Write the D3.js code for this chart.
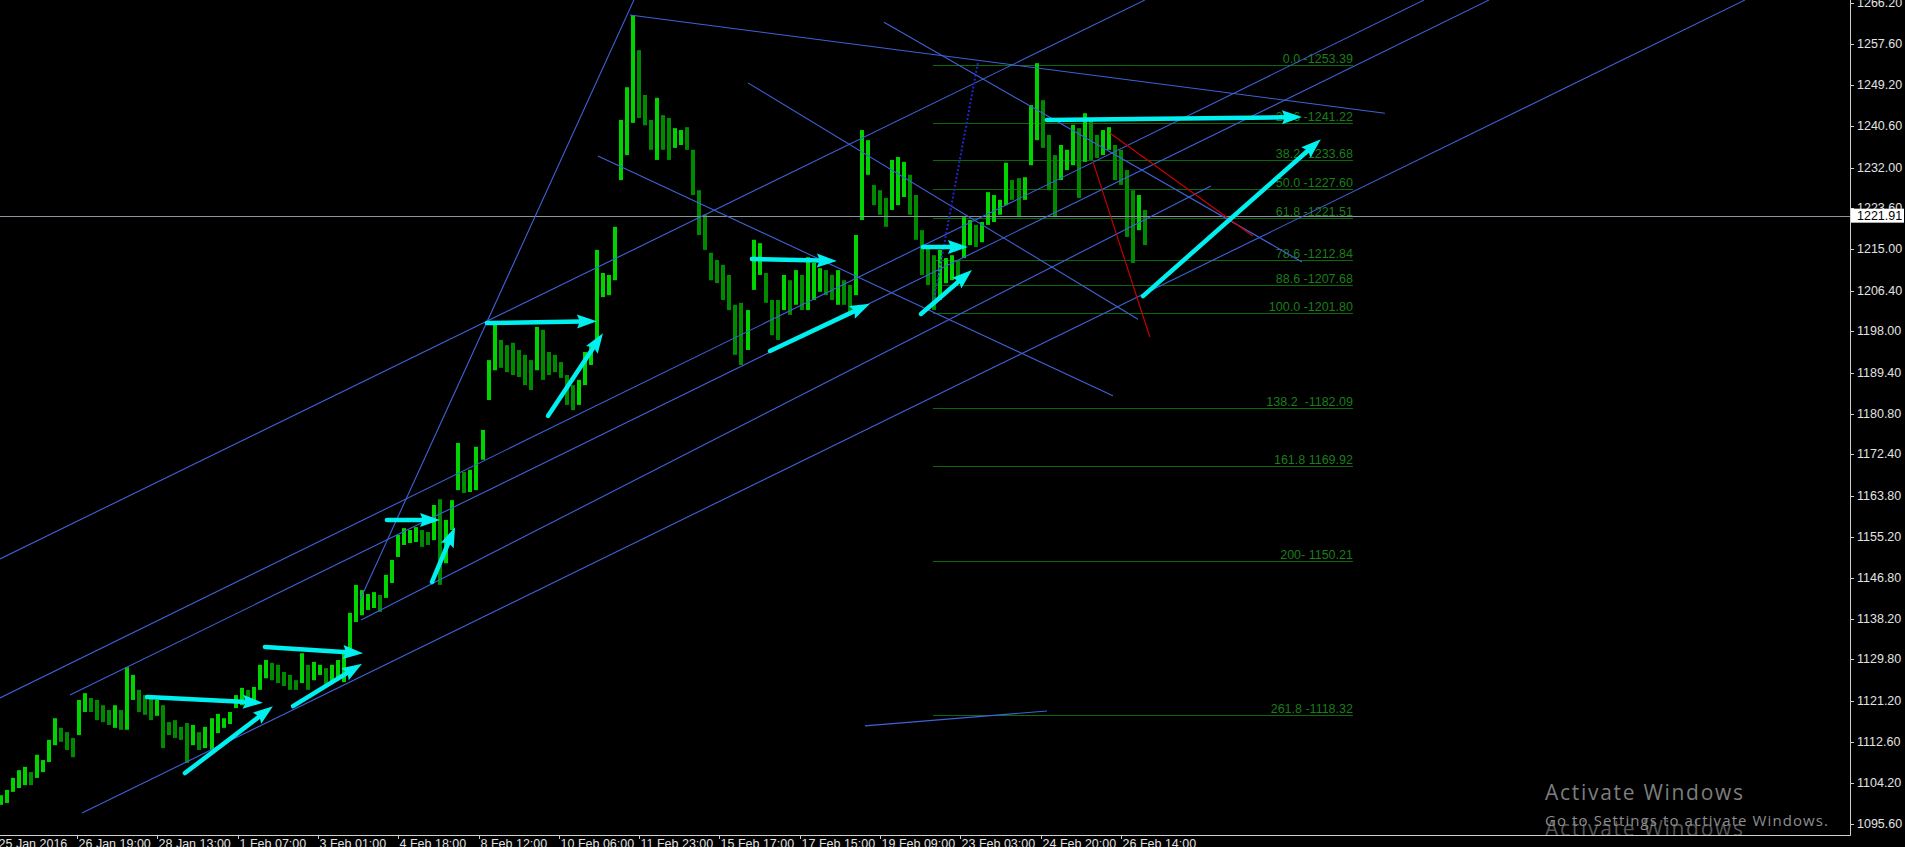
<!DOCTYPE html>
<html><head><meta charset="utf-8">
<script src="https://cdn.jsdelivr.net/npm/d3@7"></script>
<style>html,body{margin:0;padding:0;background:#000;overflow:hidden}</style>
</head><body>
<svg id="c" width="1905" height="847"></svg>
<script>
// ---------- DATA ----------
const barHigh = [1101.6,1102.7,1105.2,1106.8,1107.5,1106.4,1110.0,1108.9,1113.1,1117.6,
1115.6,1114.7,1113.5,1121.4,1122.8,1121.8,1121.4,1120.3,1119.3,1120.3,
1119.3,1128.2,1126.6,1123.5,1122.4,1121.8,1121.4,1120.3,1116.8,1117.2,
1115.8,1116.6,1116.2,1114.7,1115.8,1117.6,1118.5,1117.6,1118.9,1122.4,
1123.9,1123.5,1124.1,1128.7,1129.7,1129.1,1128.7,1127.2,1126.6,1125.5,
1131.1,1128.7,1129.3,1128.7,1128.0,1128.7,1129.7,1131.8,1139.5,1145.3,
1144.2,1143.4,1143.8,1143.2,1147.4,1150.5,1155.7,1157.1,1156.7,1157.3,
1156.7,1156.3,1161.9,1163.1,1158.8,1162.9,1174.8,1168.8,1169.2,1174.0,
1177.5,1192.0,1199.7,1196.2,1195.1,1195.6,1194.1,1193.1,1192.0,1198.9,
1198.3,1193.7,1193.1,1191.6,1188.9,1186.8,1187.9,1193.7,1195.1,1214.9,
1210.1,1209.7,1219.7,1241.9,1248.7,1263.7,1256.4,1247.1,1241.9,1246.5,
1242.9,1242.3,1240.2,1239.8,1240.4,1235.7,1227.3,1222.2,1214.3,1212.8,
1211.8,1209.7,1203.5,1203.9,1202.4,1217.0,1216.3,1210.1,1204.5,1204.5,
1209.7,1208.6,1210.7,1209.7,1213.4,1212.2,1211.1,1210.7,1209.7,1210.7,
1208.6,1207.6,1218.0,1239.8,1237.7,1228.4,1227.3,1225.7,1233.6,1234.2,
1233.2,1230.5,1226.3,1219.0,1215.9,1213.8,1214.9,1213.2,1213.8,1212.8,
1221.7,1221.1,1220.1,1220.7,1226.9,1226.3,1225.3,1233.0,1229.4,1229.8,
1230.0,1245.0,1253.7,1246.0,1238.8,1234.6,1236.7,1235.7,1240.9,1240.2,
1243.3,1241.9,1238.8,1239.8,1240.4,1236.7,1235.7,1231.5,1227.3,1226.3,
1223.2];
const barLow = [1099.6,1100.0,1102.3,1103.1,1103.7,1103.7,1105.2,1106.4,1108.5,1112.0,
1112.7,1111.0,1109.5,1114.1,1118.9,1118.9,1117.2,1116.8,1116.2,1115.6,
1115.2,1115.2,1121.4,1118.9,1118.3,1117.2,1118.1,1111.4,1114.1,1113.5,
1113.1,1108.3,1112.0,1111.0,1111.4,1111.0,1114.5,1115.6,1116.4,1119.7,
1120.3,1120.6,1121.0,1123.5,1125.9,1125.5,1124.9,1124.3,1123.5,1123.5,
1124.9,1123.5,1125.5,1126.6,1124.5,1125.1,1125.5,1125.1,1131.8,1137.6,
1139.0,1140.1,1140.5,1139.7,1142.6,1145.7,1151.1,1153.6,1154.0,1154.2,
1153.2,1153.6,1154.6,1145.3,1149.8,1156.7,1165.0,1164.4,1164.6,1165.0,
1171.3,1183.7,1189.9,1190.4,1189.5,1188.9,1188.5,1186.8,1185.8,1189.9,
1187.9,1188.9,1189.5,1188.3,1182.7,1181.6,1182.7,1186.8,1191.0,1195.1,
1205.1,1205.5,1208.6,1229.4,1234.6,1241.3,1242.3,1240.8,1235.7,1233.6,
1235.7,1233.6,1236.1,1236.7,1235.7,1226.3,1218.0,1214.9,1208.6,1208.0,
1204.5,1202.4,1193.1,1191.0,1194.1,1206.6,1209.7,1203.9,1197.2,1196.2,
1202.4,1201.4,1203.5,1202.4,1202.4,1204.5,1206.2,1205.5,1204.5,1203.5,
1203.5,1201.8,1205.5,1221.1,1230.5,1224.2,1222.2,1219.7,1223.2,1224.2,
1225.9,1222.2,1217.0,1209.7,1207.6,1202.4,1204.5,1208.0,1208.6,1208.0,
1213.2,1215.9,1215.5,1216.5,1220.1,1220.7,1222.2,1224.2,1225.3,1221.7,
1225.3,1232.5,1237.7,1236.1,1227.3,1221.7,1229.4,1231.5,1232.5,1225.7,
1233.2,1233.6,1234.0,1234.6,1235.7,1229.4,1228.4,1217.6,1212.2,1219.0,
1215.9];
const firstBarHour = -38;      // hour index of first bar (hourly index, skipping closed hours)
const hoursPerBar = 3;

const timeLabels = ["25 Jan 2016","26 Jan 19:00","28 Jan 13:00","1 Feb 07:00","3 Feb 01:00","4 Feb 18:00",
  "8 Feb 12:00","10 Feb 06:00","11 Feb 23:00","15 Feb 17:00","17 Feb 15:00","19 Feb 09:00",
  "23 Feb 03:00","24 Feb 20:00","26 Feb 14:00"];
const timeLabelHours = [-40,0,40,80,120,160,200,240,280,320,360,400,440,480,520];

const priceTicks = [1266.20,1257.60,1249.20,1240.60,1232.00,1223.60,1215.00,1206.40,1198.00,1189.40,
  1180.80,1172.40,1163.80,1155.20,1146.80,1138.20,1129.80,1121.20,1112.60,1104.20,1095.60];
const currentPrice = 1221.91;

const fibPrices = [1253.39,1241.22,1233.68,1227.60,1221.51,1212.84,1207.68,1201.80,1182.09,1169.92,1150.21,1118.32];
const fibLabels = ["0.0 -1253.39","23.6 -1241.22","38.2 -1233.68","50.0 -1227.60","61.8 -1221.51",
  "78.6 -1212.84","88.6 -1207.68","100.0 -1201.80","138.2  -1182.09","161.8 1169.92","200- 1150.21","261.8 -1118.32"];
const fibHourRange = [426.4, 635.6];

// trend lines: [hour1, price1, hour2, price2]
const blueLines = [
  [141.0,1142.2,277.4,1266.8],
  [275.4,1263.7,651.5,1243.3],
  [402.0,1262.2,610.2,1212.4],
  [334.2,1249.6,528.5,1200.5],
  [259.5,1234.4,516.0,1184.6],
  [-38.4,1150.7,531.9,1266.8],
  [-38.4,1121.8,670.9,1266.8],
  [-3.5,1122.4,703.3,1266.8],
  [2.5,1097.9,830.8,1266.8],
  [141.5,1138.0,564.8,1228.2],
  [392.5,1116.0,483.2,1119.1]
];
const redLines = [
  [514.5,1239.2,585.7,1217.8],
  [506.1,1233.2,534.4,1196.8]
];
const dottedLines = [[426.4,1203.5,448.8,1253.9]];
const arrows = [
  [34.9,1122.0,92.6,1120.8],
  [53.8,1106.2,97.6,1120.1],
  [93.6,1132.4,142.5,1131.1],
  [107.6,1120.1,142.0,1128.9],
  [154.4,1158.8,180.8,1158.8],
  [176.8,1145.9,188.3,1157.3],
  [204.2,1199.7,259.0,1200.1],
  [234.6,1180.4,262.0,1197.6],
  [336.2,1213.0,378.5,1212.6],
  [345.2,1193.9,395.0,1203.7],
  [421.4,1215.5,443.8,1215.5],
  [420.4,1201.6,445.8,1210.7],
  [483.1,1241.9,610.2,1242.5],
  [531.0,1205.3,619.6,1237.9]
];

// ---------- LAYOUT ----------
const W = 1905, H = 847;
const plotRight = 1850, plotBottom = 835;
const x = d3.scaleLinear().domain([0, 520]).range([77, 77 + 80.3 * 13]);
const y = d3.scaleLinear().domain([1095.6, 1266.2]).range([824.1, 3]);
const axisFont = "'Liberation Sans', Arial, sans-serif";

const svg = d3.select("#c");
svg.append("rect").attr("width", W).attr("height", H).attr("fill", "#000");
svg.append("defs").append("clipPath").attr("id", "plot")
  .append("rect").attr("x", 0).attr("y", 0).attr("width", plotRight).attr("height", plotBottom);
const g = svg.append("g").attr("clip-path", "url(#plot)");

// fib levels
const fib = g.append("g");
fibPrices.forEach((p, i) => {
  fib.append("line").attr("x1", x(fibHourRange[0])).attr("x2", x(fibHourRange[1]))
    .attr("y1", Math.round(y(p)) + 0.5).attr("y2", Math.round(y(p)) + 0.5)
    .attr("stroke", "#0a6a0a").attr("stroke-width", 1);
  fib.append("text").attr("x", x(fibHourRange[1])).attr("y", y(p) - 2)
    .attr("text-anchor", "end").attr("font-family", axisFont).attr("font-size", 12.5)
    .attr("fill", "#1b7d1b").style("white-space", "pre").text(fibLabels[i]);
});

// bars
const bars = barHigh.map((hi, k) => ({ k, hi, lo: barLow[k], h: firstBarHour + hoursPerBar * k }));
g.append("g").selectAll("rect").data(bars).enter().append("rect")
  .attr("x", d => Math.round(x(d.h)) - 2)
  .attr("width", 4)
  .attr("y", d => y(d.hi))
  .attr("height", d => Math.max(1, y(d.lo) - y(d.hi)))
  .attr("fill", (d, i) => {
    if (i === 0) return "#00d000";
    const prev = (bars[i - 1].hi + bars[i - 1].lo) / 2, cur = (d.hi + d.lo) / 2;
    return cur >= prev ? "#00d400" : "#008a00";
  });

// current price line
g.append("line").attr("x1", 0).attr("x2", plotRight)
  .attr("y1", Math.round(y(currentPrice)) + 0.5).attr("y2", Math.round(y(currentPrice)) + 0.5)
  .attr("stroke", "#8a949e").attr("stroke-width", 1);

// blue trend lines
g.append("g").selectAll("line").data(blueLines).enter().append("line")
  .attr("x1", d => x(d[0])).attr("y1", d => y(d[1]))
  .attr("x2", d => x(d[2])).attr("y2", d => y(d[3]))
  .attr("stroke", "#3f62d8").attr("stroke-width", 1.1);
g.append("g").selectAll("line").data(redLines).enter().append("line")
  .attr("x1", d => x(d[0])).attr("y1", d => y(d[1]))
  .attr("x2", d => x(d[2])).attr("y2", d => y(d[3]))
  .attr("stroke", "#d00000").attr("stroke-width", 1.1);
g.append("g").selectAll("line").data(dottedLines).enter().append("line")
  .attr("x1", d => x(d[0])).attr("y1", d => y(d[1]))
  .attr("x2", d => x(d[2])).attr("y2", d => y(d[3]))
  .attr("stroke", "#2424c8").attr("stroke-width", 2).attr("stroke-dasharray", "2,2");

// arrows
const ag = g.append("g");
arrows.forEach(a => {
  const x1 = x(a[0]), y1 = y(a[1]), x2 = x(a[2]), y2 = y(a[3]);
  const dx = x2 - x1, dy = y2 - y1, len = Math.hypot(dx, dy);
  const ux = dx / len, uy = dy / len, px = -uy, py = ux;
  const hl = 20, hw = 7;
  const bx = x2 - ux * hl, by = y2 - uy * hl;
  ag.append("line").attr("x1", x1).attr("y1", y1).attr("x2", bx + ux * 4).attr("y2", by + uy * 4)
    .attr("stroke", "#00f0f0").attr("stroke-width", 4.5).attr("stroke-linecap", "round");
  ag.append("path").attr("d", `M${x2},${y2}L${bx + px * hw},${by + py * hw}L${bx + ux*3},${by + uy*3}L${bx - px * hw},${by - py * hw}Z`)
    .attr("fill", "#00f0f0");
});

// watermark
const wm = svg.append("g").attr("font-family", "'Open Sans','Noto Sans',sans-serif");
wm.append("text").attr("x", 1545).attr("y", 836).attr("font-size", 21).attr("textLength", 198)
  .attr("fill", "#555555").text("Activate Windows");
wm.append("text").attr("x", 1545).attr("y", 800).attr("font-size", 21).attr("textLength", 198)
  .attr("fill", "#7d7d7d").text("Activate Windows");
wm.append("text").attr("x", 1545).attr("y", 826).attr("font-size", 15).attr("textLength", 283)
  .attr("fill", "#8e8e8e").text("Go to Settings to activate Windows.");

// axes frame
svg.append("line").attr("x1", plotRight + 0.5).attr("x2", plotRight + 0.5).attr("y1", 0).attr("y2", plotBottom + 0.5)
  .attr("stroke", "#d0d0d0");
svg.append("line").attr("x1", 0).attr("x2", plotRight + 0.5).attr("y1", plotBottom + 0.5).attr("y2", plotBottom + 0.5)
  .attr("stroke", "#d0d0d0");

// right price axis
const ra = svg.append("g").attr("font-family", axisFont).attr("font-size", 12.5).attr("fill", "#e2e2e2");
priceTicks.forEach(p => {
  const yy = Math.round(y(p)) + 0.5;
  svg.append("line").attr("x1", plotRight).attr("x2", plotRight + 4).attr("y1", yy).attr("y2", yy).attr("stroke", "#d0d0d0");
  ra.append("text").attr("x", 1857).attr("y", y(p)).attr("dominant-baseline", "central").text(d3.format(".2f")(p));
});
// current price box
const cy = y(currentPrice);
svg.append("rect").attr("x", 1851).attr("y", cy - 7.5).attr("width", 53).attr("height", 14).attr("fill", "#ffffff");
svg.append("text").attr("x", 1857).attr("y", cy).attr("dominant-baseline", "central")
  .attr("font-family", axisFont).attr("font-size", 12.5).attr("fill", "#000").text(d3.format(".2f")(currentPrice));

// bottom time axis
const ba = svg.append("g").attr("font-family", axisFont).attr("font-size", 12.5).attr("fill", "#e2e2e2");
timeLabels.forEach((t, i) => {
  const xx = Math.round(x(timeLabelHours[i])) + 0.5;
  svg.append("line").attr("x1", xx).attr("x2", xx).attr("y1", plotBottom).attr("y2", plotBottom + 4).attr("stroke", "#d0d0d0");
  ba.append("text").attr("x", xx + 1).attr("y", 848).text(t);
});
</script>
</body></html>
